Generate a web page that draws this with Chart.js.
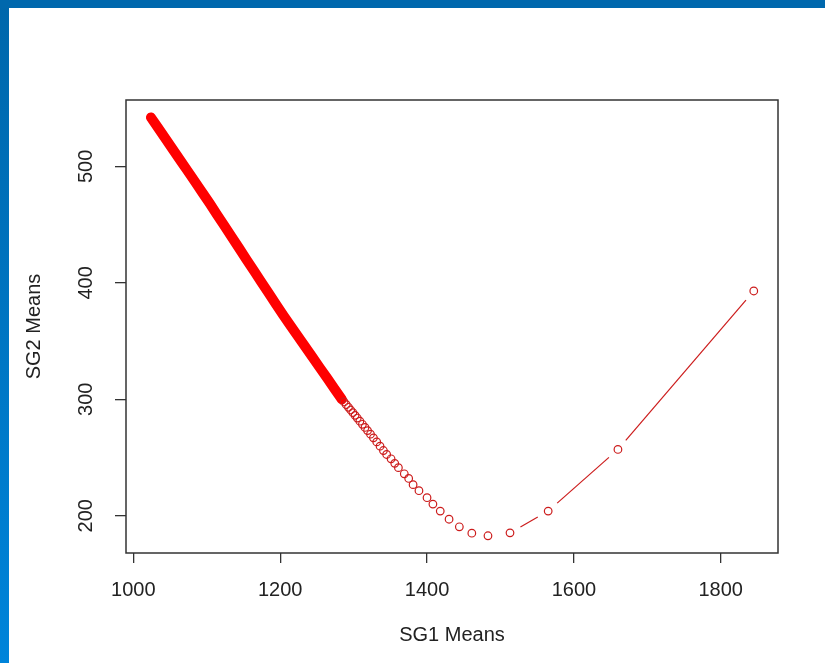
<!DOCTYPE html>
<html>
<head>
<meta charset="utf-8">
<script src="https://cdn.jsdelivr.net/npm/chart.js@4.4.0/dist/chart.umd.min.js"></script>
<style>
  html, body { margin: 0; padding: 0; background: #fff; }
  #wrap { position: relative; width: 825px; height: 663px; overflow: hidden; }
  #topBar { position: absolute; left: 0; top: 0; width: 825px; height: 8px; background: #0068ad; }
  #leftBar { position: absolute; left: 0; top: 0; width: 9px; height: 663px; background: linear-gradient(#0067ab, #0084da); }
</style>
</head>
<body>
<div id="wrap">
  <canvas id="meansChart" width="825" height="663"></canvas>
  <div id="leftBar"></div>
  <div id="topBar"></div>
</div>
<script>
// SG1 / SG2 mean pairs (dense run first, then the spread-out points)
const sg1Means = [
    1024, 1034, 1044, 1054, 1064, 1074, 1084, 1094, 1104, 1114,
    1124, 1134, 1144, 1154, 1164, 1174, 1184, 1194, 1204, 1214,
    1224, 1234, 1244, 1254, 1264, 1274, 1284,
    1287, 1290, 1293, 1296, 1299, 1302, 1305, 1308.5, 1312, 1315.5,
    1319, 1323, 1327, 1331.5, 1336, 1340.6, 1345, 1351, 1356, 1361,
    1369, 1375, 1381, 1389, 1400, 1408, 1418, 1430, 1444, 1461,
    1483, 1513, 1565, 1660, 1845
];
const sg2Means = [
    542.0, 532.8, 523.6, 514.4, 505.2, 496.0, 486.8, 477.5, 468.2, 458.5,
    449.0, 439.3, 429.8, 420.1, 410.6, 401.0, 391.4, 381.8, 372.4, 363.3,
    354.3, 345.2, 336.2, 327.1, 318.1, 309.0, 300.0,
    297.7, 295.4, 293.1, 290.8, 288.5, 286.2, 283.9, 281.2, 278.5, 275.8,
    273.1, 270.0, 266.9, 263.4, 259.7, 256.0, 252.6, 248.9, 245.0, 241.3,
    236.0, 232.0, 226.7, 221.5, 215.5, 210.0, 204.0, 197.0, 190.5, 185.0,
    182.8, 185.3, 204.0, 256.9, 393.0
];
const xTicks = [1000, 1200, 1400, 1600, 1800];
const yTicks = [200, 300, 400, 500];

const points = sg1Means.map((x, i) => ({ x: x, y: sg2Means[i] }));

const BAND_END = 1284;   // points up to here overlap into one solid stroke
const GAP = 12;          // R type="b" leaves a gap round each point
const axisFont = { family: "'Liberation Sans', Arial, sans-serif", size: 20 };
const textColor = "#222";
const markRed = "#cc1c1c";

function segLen(c) {
    return Math.hypot(c.p1.x - c.p0.x, c.p1.y - c.p0.y);
}
function inBand(c) {
    return c.p1.parsed.x <= BAND_END;
}

const plotBox = {
    id: "plotBox",
    afterDraw(chart) {
        const { ctx, chartArea: a } = chart;
        ctx.save();
        ctx.strokeStyle = "#333";
        ctx.lineWidth = 1.5;
        ctx.strokeRect(a.left, a.top, a.right - a.left, a.bottom - a.top);
        ctx.restore();
    }
};

new Chart(document.getElementById("meansChart"), {
    type: "scatter",
    data: {
        datasets: [{
            data: points,
            showLine: true,
            borderColor: markRed,
            borderWidth: 1.2,
            pointRadius: 3.8,
            pointBorderWidth: 1.2,
            pointBorderColor: (c) => (c.raw && c.raw.x <= BAND_END ? "#ff0000" : markRed),
            pointBackgroundColor: "rgba(0,0,0,0)",
            segment: {
                borderWidth: (c) => (inBand(c) ? 10 : 1.2),
                borderCapStyle: (c) => (inBand(c) ? "round" : "butt"),
                borderColor: (c) => {
                    if (inBand(c)) return "#ff0000";
                    return segLen(c) > 2 * GAP ? markRed : "rgba(0,0,0,0)";
                },
                borderDash: (c) => {
                    if (inBand(c)) return [];
                    const L = segLen(c);
                    return L > 2 * GAP ? [L - 2 * GAP, 2 * GAP] : [];
                },
                borderDashOffset: (c) => (inBand(c) ? 0 : segLen(c) - GAP)
            }
        }]
    },
    options: {
        responsive: false,
        animation: false,
        layout: { padding: { top: 100, right: 47, left: 0, bottom: 0 } },
        plugins: {
            legend: { display: false },
            tooltip: { enabled: false }
        },
        scales: {
            x: {
                type: "linear",
                min: 990,
                max: 1878,
                afterBuildTicks: (s) => { s.ticks = xTicks.map((v) => ({ value: v })); },
                afterFit: (s) => { s.height = 110; },
                border: { display: false },
                grid: { drawOnChartArea: false, tickLength: 10, color: "#333", lineWidth: 1.3 },
                ticks: {
                    font: axisFont,
                    color: textColor,
                    padding: 15,
                    maxRotation: 0,
                    callback: (v) => String(v)
                },
                title: {
                    display: true,
                    text: "SG1 Means",
                    font: axisFont,
                    color: textColor,
                    padding: { top: 0, bottom: 16 }
                }
            },
            y: {
                type: "linear",
                min: 168,
                max: 557,
                afterBuildTicks: (s) => { s.ticks = yTicks.map((v) => ({ value: v })); },
                afterFit: (s) => { s.width = 126; },
                border: { display: false },
                grid: { drawOnChartArea: false, tickLength: 11, color: "#333", lineWidth: 1.3 },
                ticks: {
                    font: axisFont,
                    color: textColor,
                    padding: 12,
                    minRotation: 90,
                    maxRotation: 90,
                    crossAlign: "center",
                    callback: (v) => String(v)
                },
                title: {
                    display: true,
                    text: "SG2 Means",
                    font: axisFont,
                    color: textColor,
                    padding: { top: 22, bottom: 0 }
                }
            }
        }
    },
    plugins: [plotBox]
});
</script>
</body>
</html>
